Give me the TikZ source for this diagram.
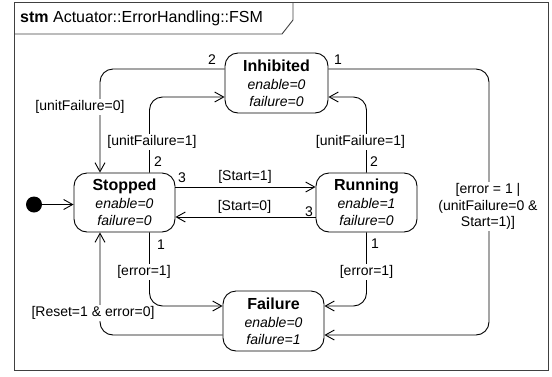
\documentclass[tikz,border=0pt]{standalone}
\usepackage{fontspec}
\setmainfont{Liberation Sans}
\usetikzlibrary{arrows.meta}
\begin{document}
\begin{tikzpicture}[x=1pt,y=-1pt,
  state/.style={draw, line width=0.9pt, rounded corners=13pt, minimum width=101pt, minimum height=59pt, align=center, inner sep=0pt, font=\fontsize{14}{17}\selectfont},
  sname/.style={font=\fontsize{16}{18}\selectfont\bfseries},
  trans/.style={draw, line width=0.9pt, -{Straight Barb[length=9pt,width=10pt,line width=0.9pt]}, rounded corners=13pt},
  lbl/.style={font=\fontsize{14}{16.5}\selectfont, inner sep=1pt, align=center},
  glbl/.style={lbl, fill=white},
]
\useasboundingbox (0,0) rectangle (552,376);
% frame
\draw[line width=0.9pt, black!75] (14,2) rectangle (548,370);
\draw[line width=0.9pt, black!75] (14,34) -- (282,34) -- (293,20) -- (293,2);
\node[anchor=west, font=\fontsize{16}{18}\selectfont, inner sep=0pt] (title) at (20,18) {\textbf{stm} Actuator::ErrorHandling::FSM};

% states
\node[state, minimum width=103pt, minimum height=60pt] (I) at (276.5,83) {{\fontsize{16}{18}\selectfont\bfseries Inhibited}\\[1pt] \textit{enable=0}\\ \textit{failure=0}};
\node[state] (S) at (124.5,202.5) {{\fontsize{16}{18}\selectfont\bfseries Stopped}\\[1pt] \textit{enable=0}\\ \textit{failure=0}};
\node[state] (R) at (366.5,202.5) {{\fontsize{16}{18}\selectfont\bfseries Running}\\[1pt] \textit{enable=1}\\ \textit{failure=0}};
\node[state, minimum height=60pt] (F) at (273.5,321) {{\fontsize{16}{18}\selectfont\bfseries Failure}\\[1pt] \textit{enable=0}\\ \textit{failure=1}};
\node[circle, fill, inner sep=0pt, minimum size=16pt] (init) at (34,204.5) {};

% guide coordinates
\coordinate (y69) at (0,69);
\coordinate (y97) at (0,97);
\coordinate (y187) at (0,187);
\coordinate (y217) at (0,217);
\coordinate (y306) at (0,306);
\coordinate (y335) at (0,335);
\coordinate (x100) at (100,0);
\coordinate (x150) at (149.5,0);
\coordinate (x489) at (489,0);

% transitions
\draw[trans] (init) -- (S.west |- init);
\draw[trans] (I.west |- y69) -| (S.north -| x100);
\draw[trans] (S.north -| x150) |- (I.west |- y97);
\draw[trans] (I.east |- y69) -| (x489 |- y335) -- (F.east |- y335);
\draw[trans] (R.north) |- (I.east |- y97);
\draw[trans] (S.east |- y187) -- (R.west |- y187);
\draw[trans] (R.west |- y217) -- (S.east |- y217);
\draw[trans] (S.south -| x150) |- (F.west |- y306);
\draw[trans] (R.south) |- (F.east |- y306);
\draw[trans] (F.west |- y335) -| (S.south -| x100);

% labels
\node[lbl] (n1) at (212,60) {2};
\node[lbl] (n2) at (338,60) {1};
\node[glbl] (g1) at (80,107) {[unitFailure=0]};
\node[glbl] (g2) at (152,142) {[unitFailure=1]};
\node[lbl] (n3) at (158,162) {2};
\node[glbl] (g3) at (360.5,142) {[unitFailure=1]};
\node[lbl] (n4) at (374,162) {2};
\node[lbl] (n5) at (182,178) {3};
\node[lbl] (g4) at (245,177) {[Start=1]};
\node[lbl] (g5) at (244.5,207) {[Start=0]};
\node[lbl] (n6) at (309,212) {3};
\node[lbl] (n7) at (161,245) {1};
\node[glbl] (g6) at (144,272) {[error=1]};
\node[lbl] (n8) at (375,244) {1};
\node[glbl] (g7) at (366.5,272) {[error=1]};
\node[glbl] (g8) at (93,313) {[Reset=1 \& error=0]};
\node[glbl] (g9) at (488,206.5) {[error = 1 |\\(unitFailure=0 \&\\Start=1)]};
\end{tikzpicture}
\end{document}
